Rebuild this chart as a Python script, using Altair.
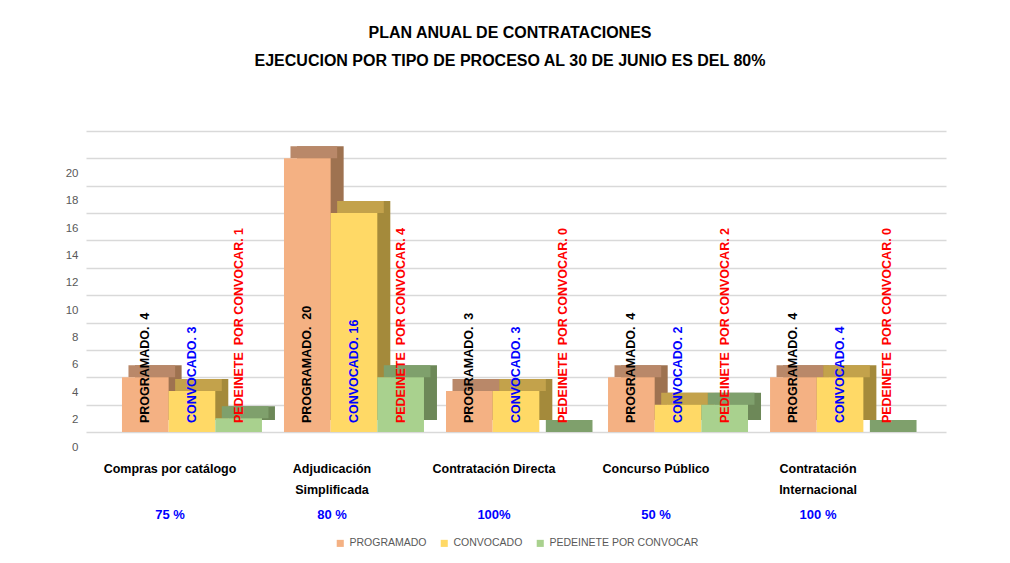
import altair as alt
import pandas as pd

categories = ["Compras por catálogo", "Adjudicación Simplificada", "Contratación Directa",
              "Concurso Público", "Contratación Internacional"]
cat_lines = [["Compras por catálogo"], ["Adjudicación", "Simplificada"], ["Contratación Directa"],
             ["Concurso Público"], ["Contratación", "Internacional"]]
series = ["PROGRAMADO", "CONVOCADO", "PEDEINETE POR CONVOCAR"]
label_prefix = ["PROGRAMADO.\u00a0 ", "CONVOCADO. ", "PEDEINETE\u00a0 POR CONVOCAR. "]
programado = [4, 20, 3, 4, 4]
convocado = [3, 16, 3, 2, 4]
pendiente = [1, 4, 0, 2, 0]
porcentajes = ["75 %", "80 %", "100%", "50 %", "100 %"]

fill_colors = ["#F4B183", "#FFD966", "#A9D18E"]
top_colors = ["#B98869", "#C3A24B", "#7FA06C"]
side_colors = ["#9E7250", "#A48A3B", "#6D8858"]
text_colors = ["#000000", "#0000FF", "#FF0000"]

rows = []
for i, c in enumerate(categories):
    for j, vals in enumerate([programado, convocado, pendiente]):
        rows.append({"cat": c, "serie": series[j], "valor": vals[i],
                     "etiqueta": f"{label_prefix[j]}{vals[i]}", "tcolor": text_colors[j],
                     "topc": top_colors[j], "sidec": side_colors[j]})
df = pd.DataFrame(rows)
cat_df = pd.DataFrame({"cat": categories, "lines": cat_lines, "pct": porcentajes})

narrow = "Liberation Sans Narrow, Liberation Sans, sans-serif"

PLOT_W = 860
PAD_IN = 0.136
PAD_OUT = 0.222
step = PLOT_W / (len(categories) - PAD_IN + 2 * PAD_OUT)
band = step * (1 - PAD_IN)

DEPTH_X = 13
DEPTH_Y = 12

xenc = alt.X("cat:N", sort=categories,
             scale=alt.Scale(paddingInner=PAD_IN, paddingOuter=PAD_OUT),
             axis=None)
xoff = alt.XOffset("serie:N", sort=series, scale=alt.Scale(domain=series))
xoff_side = alt.XOffset("serie:N", sort=series,
                        scale=alt.Scale(domain=series, range=[DEPTH_X, band + DEPTH_X]))
xoff_top = alt.XOffset("serie:N", sort=series,
                       scale=alt.Scale(domain=series, range=[DEPTH_X / 2, band + DEPTH_X / 2]))
yscale = alt.Scale(domain=[0, 22], nice=False)
yaxis = alt.Axis(values=list(range(0, 24, 2)), title=None, domain=False, ticks=False,
                 labelExpr="datum.value > 20 ? '' : datum.label",
                 labelOverlap=False,
                 labelOffset=15, labelPadding=8, labelColor="#595959",
                 labelFontSize=11.5, labelFont="Liberation Sans",
                 gridColor="#D9D9D9", gridWidth=1.5)

side = alt.Chart(df).mark_bar(yOffset=-DEPTH_Y, y2Offset=-DEPTH_Y).encode(
    x=xenc, xOffset=xoff_side,
    y=alt.Y("valor:Q", scale=yscale, axis=yaxis),
    color=alt.Color("sidec:N", scale=None),
)

top = alt.Chart(df).mark_bar(yOffset=-DEPTH_Y).encode(
    x=xenc, xOffset=xoff_top,
    y=alt.Y("valor:Q", scale=yscale, axis=yaxis),
    y2=alt.Y2("valor"),
    color=alt.Color("topc:N", scale=None),
)

bars = alt.Chart(df).mark_bar().encode(
    x=xenc,
    xOffset=xoff,
    y=alt.Y("valor:Q", scale=yscale, axis=yaxis),
    fill=alt.Fill("serie:N", sort=series,
                  scale=alt.Scale(domain=series, range=fill_colors),
                  legend=alt.Legend(title=None, orient="none", direction="horizontal",
                                    legendX=249, legendY=407, symbolType="square",
                                    symbolSize=50, symbolStrokeWidth=0,
                                    labelFont=narrow, labelFontSize=10.5,
                                    labelColor="#595959", columnPadding=12)),
)

bar_text = alt.Chart(df).mark_text(angle=270, align="left", baseline="middle",
                                   fontWeight="bold", fontSize=12.5,
                                   font="Liberation Sans").encode(
    x=xenc,
    xOffset=xoff,
    y=alt.YDatum(0.65, scale=yscale, axis=yaxis),
    text="etiqueta:N",
    color=alt.Color("tcolor:N", scale=None),
)

cat_text = alt.Chart(cat_df).mark_text(baseline="top", fontWeight="bold", fontSize=12.5,
                                       font=narrow, lineHeight=21, dx=-22,
                                       color="#000000").encode(
    x=xenc,
    y=alt.value(332),
    text="lines",
)

pct_text = alt.Chart(cat_df).mark_text(baseline="middle", fontWeight="bold", fontSize=13,
                                       font=narrow, dx=-22, color="#0000FF").encode(
    x=xenc,
    y=alt.value(384),
    text="pct:N",
)

chart = alt.layer(side, top, bars, bar_text, cat_text, pct_text).resolve_scale(
    xOffset="independent"
).properties(
    width=PLOT_W, height=301,
    autosize=alt.AutoSizeParams(type="none"),
    padding={"left": 78, "top": 123, "right": 56, "bottom": 123},
    title=alt.TitleParams(
        text=["PLAN ANUAL DE CONTRATACIONES",
              "EJECUCION POR TIPO DE PROCESO AL 30 DE JUNIO ES DEL 80%"],
        font=narrow, fontSize=16, fontWeight="bold", color="#000000",
        anchor="middle", offset=62, lineHeight=28, dx=-6),
).configure_view(stroke=None)

chart.save("out.html", embed_options={"renderer": "svg", "actions": False})
